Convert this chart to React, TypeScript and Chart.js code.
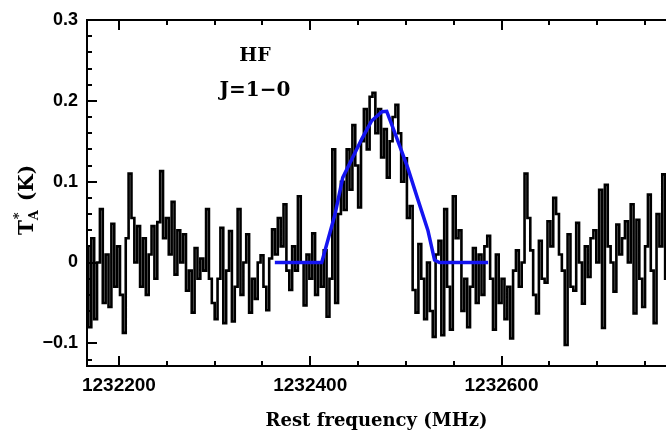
import React, { useEffect, useRef } from "react";
import { Chart, registerables } from "chart.js";

Chart.register(...registerables);

// Spectrum channels (regular channel grid)
const CHANNEL_START = 1232166.6; // MHz, first channel
const CHANNEL_WIDTH = 3; // MHz

// Observed antenna temperature (K), read channel by channel
const spectrumValues = [
  0.02, -0.08, 0.03, -0.07, 0.0, 0.066, -0.05, 0.01, -0.055, 0.048,
  -0.03, 0.02, -0.04, -0.087, 0.03, 0.11, 0.055, 0.0, 0.045, -0.03,
  0.03, -0.04, 0.01, 0.045, -0.02, 0.05, 0.113, 0.03, 0.055, 0.01,
  0.075, -0.015, 0.04, 0.0, 0.035, -0.035, -0.01, -0.062, 0.018, -0.02,
  0.005, -0.01, 0.066, -0.02, -0.05, -0.07, -0.02, 0.043, -0.075, -0.01,
  0.039, -0.073, -0.03, 0.066, -0.04, 0.0, 0.035, -0.062, -0.02, -0.045,
  0.0, 0.009, -0.03, -0.059, 0.005, 0.041, 0.01, 0.055, 0.02, 0.072,
  -0.01, -0.034, 0.02, -0.01, 0.082, 0.0, -0.053, 0.01, -0.02, 0.036,
  -0.04, 0.0, -0.03, 0.015, -0.067, -0.02, 0.14, -0.05, 0.06, 0.1,
  0.065, 0.14, 0.09, 0.17, 0.12, 0.068, 0.15, 0.19, 0.14, 0.205,
  0.21, 0.16, 0.19, 0.13, 0.165, 0.105, 0.15, 0.18, 0.195, 0.16,
  0.1, 0.129, 0.055, 0.07, -0.034, -0.062, 0.023, -0.02, -0.07, 0.0,
  -0.06, -0.092, 0.01, 0.027, -0.09, 0.066, -0.03, -0.083, 0.082, 0.03,
  0.04, -0.06, -0.02, -0.08, -0.03, 0.018, -0.05, 0.01, -0.04, 0.02,
  0.033, -0.02, -0.083, 0.01, -0.05, -0.02, -0.07, -0.03, -0.094, -0.01,
  0.015, -0.03, 0.0, 0.11, 0.055, 0.015, -0.04, -0.063, 0.027, -0.02,
  -0.025, 0.051, 0.02, 0.08, 0.06, 0.01, -0.01, -0.102, 0.035, -0.03,
  -0.035, 0.049, 0.0, -0.051, 0.02, -0.018, 0.03, 0.04, 0.0, 0.09,
  -0.081, 0.096, 0.02, 0.0, -0.036, 0.047, 0.01, 0.03, 0.051, 0.0,
  0.072, -0.063, 0.053, -0.02, -0.055, 0.02, 0.084, -0.01, -0.075, 0.06,
  0.02, 0.109, -0.02,
];

// Fitted line profile (blue)
const fitFreqs = [
  1232363, 1232412, 1232426, 1232434, 1232454, 1232464, 1232475, 1232480,
  1232488, 1232502, 1232512, 1232523, 1232530, 1232535, 1232586,
];
const fitValues = [
  0, 0, 0.06, 0.105, 0.153, 0.175, 0.1865, 0.187,
  0.162, 0.117, 0.08, 0.04, 0.003, 0, 0,
];

const xTickLabels = [1232200, 1232400, 1232600];
const yTickLabels = [-0.1, 0, 0.1, 0.2, 0.3];
const X_MIN = 1232166.6;
const X_MAX = 1232772;
const Y_MIN = -0.128;
const Y_MAX = 0.3;
const X_MINOR = 50;
const X_MAJOR = 200;
const Y_MINOR = 0.02;

const lineLabel = ["HF", "J=1\u22120"];

const framePlugin = {
  id: "frame",
  afterDraw(chart: any) {
    const { ctx, chartArea: a, scales } = chart;
    const xs = scales.x;
    const ys = scales.y;
    ctx.save();
    ctx.strokeStyle = "#000";
    ctx.lineWidth = 2;
    ctx.lineCap = "butt";
    ctx.beginPath();
    ctx.moveTo(a.right + 4, a.top);
    ctx.lineTo(a.left, a.top);
    ctx.lineTo(a.left, a.bottom);
    ctx.lineTo(a.right + 4, a.bottom);
    ctx.stroke();
    ctx.beginPath();
    const first = Math.ceil(X_MIN / X_MINOR) * X_MINOR;
    for (let v = first; v <= X_MAX; v += X_MINOR) {
      const px = Math.round(xs.getPixelForValue(v));
      const major = v % X_MAJOR === 0;
      const L = major ? 10 : 5;
      ctx.moveTo(px, a.bottom);
      ctx.lineTo(px, a.bottom - L);
      ctx.moveTo(px, a.top);
      ctx.lineTo(px, a.top + L);
    }
    const k0 = Math.ceil(Y_MIN / Y_MINOR - 1e-6);
    const k1 = Math.floor(Y_MAX / Y_MINOR + 1e-6);
    for (let k = k0; k <= k1; k++) {
      const py = Math.round(ys.getPixelForValue(k * Y_MINOR));
      const major = k % 5 === 0;
      const L = major ? 10 : 5;
      ctx.moveTo(a.left, py);
      ctx.lineTo(a.left + L, py);
    }
    ctx.stroke();

    // line identification label
    ctx.fillStyle = "#000";
    ctx.font = "bold 19px 'DejaVu Serif'";
    ctx.textAlign = "center";
    ctx.textBaseline = "middle";
    ctx.fillText(lineLabel[0], 255, 56);
    ctx.font = "bold 20px 'DejaVu Serif'";
    ctx.fillText(lineLabel[1], 255, 91);

    // y axis title: T_A^* (K)
    ctx.translate(33, 200);
    ctx.rotate(-Math.PI / 2);
    ctx.textAlign = "left";
    ctx.textBaseline = "alphabetic";
    const big = "bold 20px 'DejaVu Serif'";
    const small = "bold 13px 'DejaVu Serif'";
    ctx.font = big;
    const wT = ctx.measureText("T").width;
    const wK = ctx.measureText(" (K)").width;
    ctx.font = small;
    const wA = ctx.measureText("A").width;
    const total = wT + wA + 2 + wK;
    let x = -total / 2;
    ctx.font = big;
    ctx.fillText("T", x, 0);
    x += wT;
    ctx.font = small;
    ctx.fillText("A", x, 5);
    ctx.fillText("*", x + 1, -10);
    x += wA + 2;
    ctx.font = big;
    ctx.fillText(" (K)", x, 0);
    ctx.restore();
  },
};

export default function App() {
  const ref = useRef<HTMLCanvasElement | null>(null);
  useEffect(() => {
    if (!ref.current) return;
    const spectrum = spectrumValues.map((v, i) => ({ x: CHANNEL_START + i * CHANNEL_WIDTH, y: v }));
    const fit = fitFreqs.map((f, i) => ({ x: f, y: fitValues[i] }));
    const chart = new Chart(ref.current, {
      type: "line",
      data: {
        datasets: [
          {
            label: "fit",
            data: fit,
            borderColor: "#1414f0",
            borderWidth: 3.5,
            pointRadius: 0,
            tension: 0,
          },
          {
            label: "spectrum",
            data: spectrum,
            borderColor: "#000",
            borderWidth: 2.6,
            pointRadius: 0,
            stepped: "middle",
          },
        ],
      },
      options: {
        animation: false,
        responsive: false,
        events: [],
        layout: { padding: { top: 20, right: 0, left: 0, bottom: 0 } },
        plugins: { legend: { display: false }, tooltip: { enabled: false } },
        scales: {
          x: {
            type: "linear",
            min: X_MIN,
            max: X_MAX,
            afterBuildTicks: (s: any) => {
              s.ticks = xTickLabels.map((v) => ({ value: v }));
            },
            afterFit: (s: any) => {
              s.height = 68;
            },
            grid: { display: false, drawTicks: false },
            border: { display: false },
            ticks: {
              autoSkip: false,
              maxRotation: 0,
              padding: 8,
              color: "#000",
              font: { family: "'Liberation Sans'", weight: "bold", size: 19 },
              callback: (v: any) => String(v),
            },
            title: {
              display: true,
              text: "Rest frequency (MHz)",
              color: "#000",
              font: { family: "'DejaVu Serif'", weight: "bold", size: 18 },
              padding: { top: 0, bottom: 2 },
            },
          },
          y: {
            type: "linear",
            min: Y_MIN,
            max: Y_MAX,
            afterBuildTicks: (s: any) => {
              s.ticks = yTickLabels.map((v) => ({ value: v }));
            },
            afterFit: (s: any) => {
              s.width = 87;
            },
            grid: { display: false, drawTicks: false },
            border: { display: false },
            ticks: {
              autoSkip: false,
              padding: 9,
              color: "#000",
              font: { family: "'Liberation Sans'", weight: "bold", size: 18 },
              callback: (v: any) => (v === 0 ? "0" : (v < 0 ? "\u2212" : "") + Math.abs(v).toFixed(1)),
            },
          },
        },
      },
      plugins: [framePlugin],
    });
    return () => chart.destroy();
  }, []);
  return (
    <div style={{ position: "fixed", left: 0, top: 0, width: 666, height: 434, background: "#fff" }}>
      <canvas ref={ref} width={666} height={434} style={{ width: 666, height: 434, display: "block" }} />
    </div>
  );
}
